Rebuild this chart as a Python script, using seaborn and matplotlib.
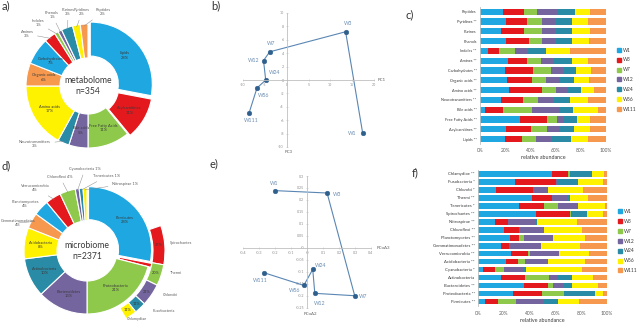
import numpy as np
import pandas as pd
import matplotlib
matplotlib.use("Agg")
import matplotlib.pyplot as plt
from matplotlib.lines import Line2D
import seaborn as sns

sns.set_theme(style="white")
plt.rcParams["font.family"] = ["Lato", "DejaVu Sans"]

# ---------------------------------------------------------------- data
weeks = ["W1", "W3", "W7", "W12", "W24", "W56", "W111"]

# a) metabolome composition (% of 354 metabolites)
metab_classes = ["Lipids", "Acylcarnitines", "Free Fatty Acids", "Bile acids",
                 "Neurotransmitters", "Amino acids", "Organic acids",
                 "Carbohydrates", "Amines", "Indoles", "Phenols", "Purines",
                 "Pyridines", "Peptides"]
metab_pct = [28, 11, 11, 5, 3, 17, 6, 7, 3, 1, 1, 3, 2, 2]

# d) microbiome composition (% of 2371 OTUs); the unlabeled slice holds the minor phyla
phyla = ["Firmicutes", "minor", "Proteobacteria", "Bacteroidetes",
         "Actinobacteria", "Acidobacteria", "Gemmatimonadetes",
         "Planctomycetes", "Verrucomicrobia", "Chloroflexi", "Cyanobacteria",
         "Tenericutes", "Nitrospirae"]
phyla_pct = [28, 1, 21, 13, 10, 8, 4, 4, 4, 4, 1, 1, 1]
minor_phyla = ["Spirochaetes", "Thermi", "Chlorobi", "Fusobacteria", "Chlamydiae"]
minor_pct = [37, 20, 21, 11, 11]

# b) PCA of metabolome
pc1 = [17.4, 13.5, -3.9, -5.3, -4.8, -6.8, -8.6]
pc3 = [-7.9, 7.2, 4.2, 2.9, 0.0, -1.2, -4.9]

# e) PCoA of microbiome
pcoa3 = [-0.204, 0.125, 0.298, 0.048, 0.035, -0.021, -0.270]
pcoa2 = [0.239, 0.229, -0.200, -0.190, -0.090, -0.157, -0.104]

# c) relative abundance per metabolite class
metab_rows = ["Peptides", "Pyridines **", "Purines", "Phenols", "Indoles **",
              "Amines **", "Carbohydrates **", "Organic acids **",
              "Amino acids **", "Neurotransmitters **", "Bile acids **",
              "Free Fatty Acids **", "Acylcarnitines **", "Lipids **"]
met_W1 = [18.5, 20.6, 16.7, 20.6, 6.6, 22.5, 19.8, 21.2, 23.3, 16.7, 4.0, 31.7, 20.6, 19.8]
met_W3 = [16.7, 17.0, 18.2, 18.3, 8.5, 15.1, 22.0, 19.8, 25.6, 17.7, 14.0, 21.7, 19.9, 13.2]
met_W7 = [10.3, 11.3, 14.0, 10.0, 12.7, 10.5, 14.3, 11.4, 11.1, 11.9, 23.0, 7.4, 12.4, 11.4]
met_W12 = [16.7, 10.6, 10.6, 10.6, 9.2, 10.6, 10.0, 11.1, 10.1, 11.9, 22.5, 5.7, 10.6, 11.7]
met_W24 = [13.2, 13.3, 13.3, 13.3, 15.4, 14.1, 10.1, 11.1, 10.1, 13.2, 10.0, 10.7, 11.4, 16.1]
met_W56 = [11.9, 13.2, 14.5, 14.0, 19.0, 13.2, 11.6, 12.2, 10.3, 14.0, 19.9, 9.8, 12.4, 13.8]
met_W111 = [12.7, 14.0, 12.7, 13.2, 28.6, 14.0, 12.2, 13.2, 9.5, 14.6, 6.6, 13.0, 12.7, 14.0]

# f) relative abundance per phylum
phyla_rows = ["Chlamydiae **", "Fusobacteria *", "Chlorobi *", "Thermi **",
              "Tenericutes *", "Spirochaetes **", "Nitrospirae **",
              "Chloroflexi **", "Planctomycetes **", "Gemmatimonadetes **",
              "Verrucomicrobia **", "Acidobacteria **", "Cyanobacteria *",
              "Actinobacteria", "Bacteroidetes **", "Proteobacteria **",
              "Firmicutes **"]
mic_W1 = [57.1, 28.6, 13.5, 41.6, 31.9, 44.9, 13.0, 20.3, 24.7, 17.4, 25.2, 21.6, 3.9, 17.7, 35.8, 27.3, 5.2]
mic_W3 = [13.0, 31.7, 29.4, 15.5, 19.5, 26.5, 10.4, 11.6, 7.2, 6.8, 13.8, 9.6, 9.1, 18.7, 18.2, 22.1, 10.4]
mic_W7 = [1.3, 0.0, 0.0, 0.0, 10.9, 0.8, 0.0, 0.0, 3.9, 0.0, 1.3, 5.2, 7.3, 18.7, 4.4, 17.6, 13.5]
mic_W12 = [0.0, 1.5, 11.1, 13.0, 14.3, 0.5, 21.5, 19.3, 22.1, 24.4, 22.8, 17.6, 15.5, 7.2, 7.6, 0.0, 21.5]
mic_W24 = [16.9, 15.6, 0.0, 1.3, 1.4, 11.7, 0.6, 0.0, 0.6, 0.0, 0.0, 0.0, 1.3, 10.4, 6.7, 23.9, 11.7]
mic_W56 = [9.9, 20.0, 27.8, 14.3, 20.7, 13.0, 31.1, 29.8, 24.6, 30.6, 22.9, 29.1, 43.4, 16.9, 20.8, 6.5, 16.4]
mic_W111 = [1.8, 2.6, 18.2, 14.3, 1.3, 2.6, 23.4, 19.0, 16.9, 20.8, 14.0, 16.9, 19.5, 10.4, 6.5, 2.6, 21.3]

# ---------------------------------------------------------------- style
palette = ["#1ea7e1", "#e3191e", "#8fc94c", "#75659f", "#2a8ba6", "#fff200", "#f6994e"]
txt_dark = "#3a3a3a"
txt_grey = "#5f5f5f"
axis_grey = "#bfbfbf"
line_c = "#5a86b3"
dot_c = "#2f5f8c"
lab_c = "#6c8fb4"

W, H = 640, 326
fig = plt.figure(figsize=(6.4, 3.26), dpi=100)


def px_axes(x0, y0, x1, y1):
    ax = fig.add_axes([x0 / W, 1 - y1 / H, (x1 - x0) / W, (y1 - y0) / H])
    ax.patch.set_alpha(0)
    return ax


def Y(y):
    return H - y


# full-figure canvas in pixel units for the two donuts and panel letters
canvas = fig.add_axes([0, 0, 1, 1])


def ring_colors(n):
    return [palette[i % len(palette)] for i in range(n)]


def mid(w, frac):
    ang = np.deg2rad((w.theta1 + w.theta2) / 2)
    cx, cy = w.center
    r = w.r * frac if frac is not None else w.r - w.width / 2
    return cx + r * np.cos(ang), cy + r * np.sin(ang)


def inner_label(w, text, fs=2.9):
    x, y = mid(w, None)
    canvas.text(x, y, text, ha="center", va="center", fontsize=fs,
                color=txt_dark, linespacing=1.1)


def outer_label(w, text, pos, fs=2.9):
    canvas.annotate(text, xy=mid(w, 0.97), xytext=(pos[0], Y(pos[1])),
                    ha="center", va="center", fontsize=fs, color=txt_grey,
                    linespacing=1.1,
                    arrowprops=dict(arrowstyle="-", color="#8c8c8c", lw=0.35,
                                    shrinkA=0.5, shrinkB=0))


ring_kw = dict(edgecolor="white", linewidth=0.8)

# a) metabolome donut
wa, _ = canvas.pie(metab_pct, colors=ring_colors(len(metab_pct)), startangle=90,
                   counterclock=False, radius=62, center=(88, Y(86)),
                   explode=[3, 3] + [0] * (len(metab_pct) - 2),
                   wedgeprops=dict(width=34, **ring_kw))
for i in [0, 1, 2, 3, 5, 6, 7]:
    inner_label(wa[i], f"{metab_classes[i]}\n{metab_pct[i]}%")
a_out = {4: (35, 144), 8: (27, 34), 9: (38, 23), 10: (52, 15),
         11: (68, 12), 12: (82, 12), 13: (103, 12)}
for i, pos in a_out.items():
    outer_label(wa[i], f"{metab_classes[i]}\n{metab_pct[i]}%", pos)
canvas.text(88, Y(86), "metabolome\nn=354", ha="center", va="center",
            fontsize=6.2, color=txt_dark, linespacing=1.25)

# d) microbiome donut with the minor phyla broken out on an outer arc
cd = (87, Y(251))
wd, _ = canvas.pie(phyla_pct, colors=ring_colors(len(phyla_pct)), startangle=90,
                   counterclock=False, radius=63, center=cd,
                   explode=[2, 3] + [0] * (len(phyla_pct) - 2),
                   wedgeprops=dict(width=33, **ring_kw))
for i in [0, 2, 3, 4, 5]:
    inner_label(wd[i], f"{phyla[i]}\n{phyla_pct[i]}%")
d_out = {6: (18, 223, True), 7: (25, 204, True), 8: (35, 188, True),
         9: (60, 177, False), 10: (85, 169, False), 11: (107, 176, False),
         12: (125, 184, False)}
for i, (x, y, two) in d_out.items():
    sep = "\n" if two else " "
    outer_label(wd[i], f"{phyla[i]}{sep}{phyla_pct[i]}%", (x, y))
canvas.text(cd[0], cd[1], "microbiome\nn=2371", ha="center", va="center",
            fontsize=6.2, color=txt_dark, linespacing=1.25)

arc_span = 79.0  # degrees covered by the outer arc
arc_gap = sum(minor_pct) * (360.0 - arc_span) / arc_span
ws, _ = canvas.pie(minor_pct + [arc_gap], colors=palette[1:6] + ["white"],
                   startangle=19, counterclock=False, radius=78, center=cd,
                   wedgeprops=dict(width=12, **ring_kw))
ws[-1].set_visible(False)
for w, p in zip(ws[:-1], minor_pct):
    x, y = mid(w, None)
    canvas.text(x, y, f"{p}%", ha="center", va="center", fontsize=2.8,
                color=txt_dark)
name_pos = [(170, 243), (170, 273), (163, 295), (153, 311), (137, 319)]
for name, (x, y) in zip(minor_phyla, name_pos):
    canvas.text(x, Y(y), name, ha="left" if name != "Chlamydiae" else "center",
                va="center", fontsize=2.9, color=txt_grey)

# panel letters
for letter, (x, y) in zip("abcdef", [(2, 6), (211, 6), (405, 15), (2, 166),
                                     (210, 164), (412, 173)]):
    canvas.text(x, Y(y), f"{letter})", ha="left", va="center", fontsize=8,
                color="#333333")

canvas.set_xlim(0, W)
canvas.set_ylim(0, H)
canvas.set_aspect("auto")
canvas.set_axis_off()


# ---------------------------------------------------------------- b), e) trajectories
def trajectory(ax, xs, ys, xlim, ylim, xticks, yticks, offsets):
    sns.lineplot(x=xs, y=ys, sort=False, estimator=None, ax=ax, color=line_c,
                 lw=0.8, marker="o", markersize=3.4, markerfacecolor=dot_c,
                 markeredgecolor=dot_c, markeredgewidth=0.3)
    ax.set_xlim(*xlim)
    ax.set_ylim(*ylim)
    for side in ["top", "right"]:
        ax.spines[side].set_visible(False)
    for side in ["left", "bottom"]:
        ax.spines[side].set_position(("data", 0))
        ax.spines[side].set_color(axis_grey)
        ax.spines[side].set_linewidth(0.6)
    ax.set_xticks(xticks)
    ax.set_yticks(yticks)
    ax.set_xticklabels([f"{v:g}" for v in np.round(xticks, 3)])
    ax.set_yticklabels([f"{v:g}" for v in np.round(yticks, 3)])
    ax.tick_params(labelsize=2.6, labelcolor="#8c8c8c", color=axis_grey,
                   length=1.6, width=0.4, direction="inout", pad=1.2,
                   bottom=True, left=True)
    ax.set_xlabel("")
    ax.set_ylabel("")
    for wk, x, y in zip(weeks, xs, ys):
        dx, dy = offsets[wk]
        ax.annotate(wk, (x, y), xytext=(dx, dy), textcoords="offset pixels",
                    ha="center", va="center", fontsize=3.8, color=lab_c)


ax_b = px_axes(243, 13, 374, 147)
trajectory(ax_b, pc1, pc3, (-10, 20), (-10, 10), np.arange(-10, 21, 5),
           np.arange(-10, 11, 2),
           {"W1": (-10, -1), "W3": (2, 8), "W7": (1, 8), "W12": (-10, 0),
            "W24": (9, 7), "W56": (7, -7), "W111": (2, -8)})
canvas.text(382, Y(80), "PC1", ha="center", va="center", fontsize=3.2,
            color=txt_grey)
canvas.text(289, Y(152), "PC3", ha="center", va="center", fontsize=3.2,
            color=txt_grey)

ax_e = px_axes(243.3, 176, 371, 307.7)
trajectory(ax_e, pcoa3, pcoa2, (-0.4, 0.4), (-0.25, 0.3),
           np.round(np.arange(-0.4, 0.41, 0.1), 2),
           np.round(np.arange(-0.25, 0.31, 0.05), 2),
           {"W1": (0, 7), "W3": (10, -1), "W7": (8, -1), "W12": (5, -10),
            "W24": (8, 4), "W56": (-9, -5), "W111": (-4, -8)})
canvas.text(383, Y(248), "PCoA3", ha="center", va="center", fontsize=3.2,
            color=txt_grey)
canvas.text(310, Y(314), "PCoA2", ha="center", va="center", fontsize=3.2,
            color=txt_grey)


# ---------------------------------------------------------------- c), f) stacked bars
def stacked(ax, rows, series, width, fs, xpad):
    cum = np.cumsum(np.array(series, dtype=float), axis=0)
    df = pd.DataFrame(cum.T, columns=weeks)
    df["row"] = rows
    for i in range(len(weeks) - 1, -1, -1):
        sns.barplot(data=df, x=weeks[i], y="row", color=palette[i], orient="h",
                    width=width, saturation=1, errorbar=None, linewidth=0,
                    ax=ax)
    ax.set_xlim(0, 100)
    ax.set_xticks(range(0, 101, 20))
    ax.set_xticklabels([f"{v}%" for v in range(0, 101, 20)])
    ax.set_xlabel("relative abundance", fontsize=3.9, color=txt_dark,
                  labelpad=1.5)
    ax.set_ylabel("")
    for side in ["top", "right", "bottom"]:
        ax.spines[side].set_visible(False)
    ax.spines["left"].set_color(axis_grey)
    ax.spines["left"].set_linewidth(0.6)
    ax.tick_params(axis="y", labelsize=fs, labelcolor=txt_dark, length=0,
                   pad=2.5)
    ax.tick_params(axis="x", labelsize=3.5, labelcolor=txt_grey, length=0,
                   pad=xpad)


ax_c = px_axes(480, 6.8, 606, 144)
stacked(ax_c, metab_rows,
        [met_W1, met_W3, met_W7, met_W12, met_W24, met_W56, met_W111],
        0.64, 2.8, 3)

ax_f = px_axes(478.3, 170, 606.7, 305.7)
stacked(ax_f, phyla_rows,
        [mic_W1, mic_W3, mic_W7, mic_W12, mic_W24, mic_W56, mic_W111],
        0.67, 3.1, 4)

handles = [Line2D([0], [0], marker="s", ls="none", markersize=2.8,
                  markerfacecolor=c, markeredgecolor=c) for c in palette]
for (lx, ly) in [(617, 47.5), (618, 209)]:
    fig.legend(handles, weeks, loc="upper left",
               bbox_to_anchor=(lx / W, 1 - ly / H), frameon=False,
               fontsize=3.5, handlelength=0.8, handletextpad=0.4,
               labelspacing=1.0, borderpad=0, borderaxespad=0,
               labelcolor=txt_dark)

fig.savefig("out.png", dpi=100)
